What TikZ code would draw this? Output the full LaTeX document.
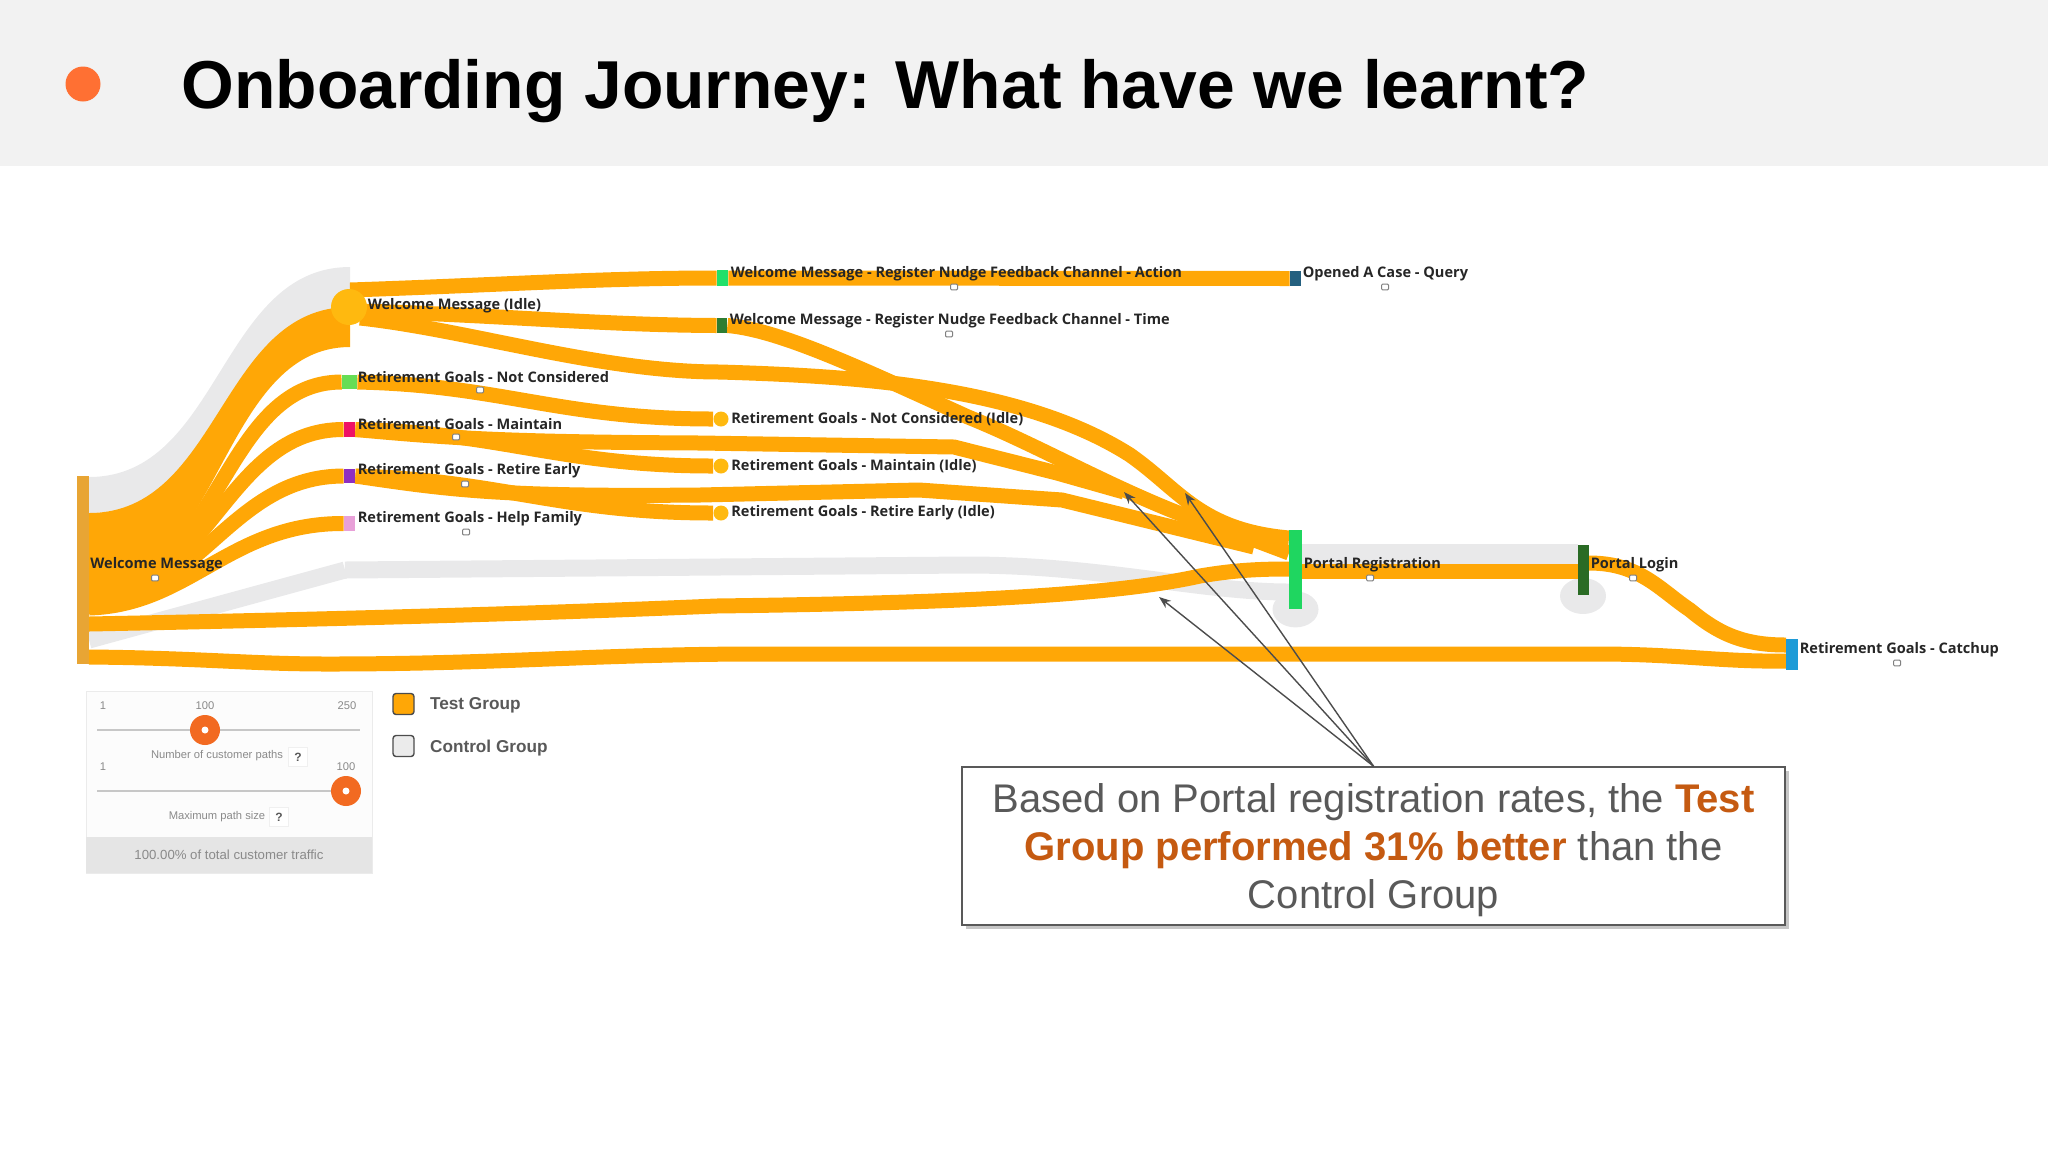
\documentclass[tikz,border=0pt]{standalone}
\usepackage{fontspec}
\setmainfont{Liberation Sans}
\newfontfamily\stagefont{Open Sans}
\usepackage{tikz}
\usetikzlibrary{positioning, backgrounds, arrows.meta, shadows}

\definecolor{bandorange}{HTML}{FFA706}
\definecolor{banddull}{HTML}{E8A534}
\definecolor{idlegold}{HTML}{FFB90F}
\definecolor{bandgrey}{HTML}{E9E9EA}
\definecolor{headgrey}{HTML}{F2F2F2}
\definecolor{dotorange}{HTML}{FF7033}
\definecolor{knoborange}{HTML}{F26A21}
\definecolor{calloutred}{HTML}{C55A11}
\definecolor{greytext}{HTML}{595959}
\definecolor{paletext}{HTML}{8A8A8A}
\definecolor{ncgreen}{HTML}{66DD55}
\definecolor{mtpink}{HTML}{EE1166}
\definecolor{repurple}{HTML}{8E2FC0}
\definecolor{hfpink}{HTML}{E8A0D8}
\definecolor{actgreen}{HTML}{22E06A}
\definecolor{tmgreen}{HTML}{2E7D32}
\definecolor{caseblue}{HTML}{24607F}
\definecolor{reggreen}{HTML}{1FD660}
\definecolor{logingreen}{HTML}{2A6B25}
\definecolor{catchblue}{HTML}{1E9BD7}

\begin{document}
\begin{tikzpicture}[x=0.5pt, y=-0.5pt,
  stage node/.style={rectangle,inner sep=0pt},
  idle node/.style={circle,inner sep=0pt,fill=idlegold},
  stage label/.style={inner sep=0pt,anchor=west,text=black!85,font=\stagefont\fontsize{7.28}{8}\selectfont\bfseries},
  tag/.style={rectangle,rounded corners=0.5pt,draw=black!50,fill=white,line width=0.5pt,inner sep=0pt,minimum width=3.5pt,minimum height=2.8pt},
  band/.style={draw=bandorange,line width=7.5pt},
  ghost/.style={draw=bandgrey,line width=8.5pt},
  knob/.style={circle,inner sep=0pt,minimum size=15pt,fill=knoborange},
  hole/.style={circle,inner sep=0pt,minimum size=3.5pt,fill=white},
  rail/.style={draw=black!22,line width=1pt},
  small text/.style={inner sep=0pt,text=paletext,font=\fontsize{5.6}{6}\selectfont},
  help/.style={rectangle,draw=black!6,fill=white,inner sep=0pt,minimum size=9.5pt,text=greytext,font=\fontsize{6}{7}\selectfont\bfseries},
  swatch/.style={rectangle,rounded corners=1.5pt,draw=black!70,line width=0.7pt,inner sep=0pt,minimum size=10.5pt},
  legend text/.style={inner sep=0pt,anchor=west,text=greytext,font=\fontsize{8.6}{10}\selectfont\bfseries},
  note arrow/.style={-{Stealth[length=6pt,width=4.5pt]},draw=black!70,line width=0.7pt}]
\useasboundingbox (0,0) rectangle (2048,1152);

\fill[headgrey] (0,0) rectangle (2048,166);
\node[circle,inner sep=0pt,minimum size=17.5pt,fill=dotorange] (dot) at (83,84) {};
\node[inner sep=0pt,anchor=west,font=\fontsize{33.9}{40}\selectfont\bfseries] (title) at (181,91) {Onboarding Journey: What have we learnt?};

\node[stage node,fill=banddull,minimum width=6pt,minimum height=94pt] (wm) at (83,570) {};
\node[idle node,minimum size=18pt] (idle) at (349,307) {};
\node[stage node,fill=ncgreen,minimum width=7.5pt,minimum height=7pt] (nc) at (349.5,382) {};
\node[stage node,fill=mtpink,minimum width=5.5pt,minimum height=7.5pt] (mt) at (349.5,429.5) {};
\node[stage node,fill=repurple,minimum width=5.5pt,minimum height=7pt] (re) at (349.5,476) {};
\node[stage node,fill=hfpink,minimum width=5.5pt,minimum height=7.5pt] (hf) at (349.5,523.5) {};
\node[stage node,fill=actgreen,minimum width=5.5pt,minimum height=8pt] (act) at (722.5,278) {};
\node[stage node,fill=tmgreen,minimum width=5pt,minimum height=7.5pt] (tm) at (722,325.5) {};
\node[stage node,fill=caseblue,minimum width=5.5pt,minimum height=7.5pt] (case) at (1295.5,278.5) {};
\node[idle node,minimum size=7.5pt] (ncidle) at (721,419) {};
\node[idle node,minimum size=7.5pt] (mtidle) at (721,466) {};
\node[idle node,minimum size=7.5pt] (reidle) at (721,513) {};
\node[stage node,fill=reggreen,minimum width=6.5pt,minimum height=39.5pt] (reg) at (1295.5,569.5) {};
\node[stage node,fill=logingreen,minimum width=5.5pt,minimum height=25pt] (login) at (1583.5,570) {};
\node[stage node,fill=catchblue,minimum width=6pt,minimum height=15.5pt] (catch) at (1792,654.5) {};

\coordinate (wmnc) at (89,592);
\coordinate (wmmt) at (89,597);
\coordinate (wmre) at (89,603);
\coordinate (wmhf) at (89,608);
\coordinate (wmdir) at (89,624);
\coordinate (wmlow) at (89,657);
\coordinate (wmgrey) at (89,640);
\coordinate (idlea) at (350,290);
\coordinate (idleb) at (358,311);
\coordinate (idlec) at (360,318);
\coordinate (idlebend) at (720,372);
\coordinate (idleturn) at (1130,455);
\coordinate (tmbend) at (968,417);
\coordinate (mtbend) at (954,447);
\coordinate (mtjoin) at (1124,492);
\coordinate (rebend) at (1062,500);
\coordinate (rejoin) at (1254,547);
\coordinate (dirbend) at (716,606);
\coordinate (lowdip) at (328,664);
\coordinate (lowflat) at (760,654);
\coordinate (greyknee) at (345,570);
\coordinate (greybend) at (968,565);
\coordinate (regidle) at (1289,538);
\coordinate (regtm) at (1289,553);
\coordinate (regdir) at (1289,569);
\coordinate (reglow) at (1289,592);
\coordinate (regout) at (1302,571);
\coordinate (loginin) at (1578,571);
\coordinate (loginout) at (1589,563);
\coordinate (loginmid) at (1690,610);
\coordinate (catchup) at (1786,645);
\coordinate (catchlow) at (1786,661);

\begin{scope}[on background layer]
\fill[bandgrey] (89,477) .. controls (220,477) and (220,267) .. (350,267) -- (350,320) .. controls (220,320) and (220,513) .. (89,513) -- cycle;
\path[ghost] (wmgrey) edge (greyknee);
\draw[ghost] (greyknee) -- (greybend) .. controls (1100,565) and (1200,592) .. (reglow);
\fill[bandgrey] (1302,544) rectangle (1578,565);
\fill[bandgrey] (reg.south) ellipse (23 and 18);
\fill[bandgrey] (1583,596) ellipse (23 and 18);

\fill[bandorange] (89,513) .. controls (220,513) and (220,307) .. (350,307) -- (350,347) .. controls (220,347) and (220,587) .. (89,590) -- cycle;
\draw[band] (wmnc) .. controls (220,590) and (220,382) .. (nc.west);
\draw[band] (wmmt) .. controls (210,595) and (225,429) .. (mt.west);
\draw[band] (wmre) .. controls (200,600) and (230,476) .. (re.west);
\draw[band] (wmhf) .. controls (190,605) and (230,523) .. (hf.west);
\draw[band] (wmdir) .. controls (400,618) and (600,611) .. (dirbend) .. controls (950,603) and (1110,596) .. (1200,576) .. controls (1235,570) and (1260,569) .. (regdir);
\draw[band] (wmlow) .. controls (200,658) and (250,664) .. (lowdip) .. controls (500,664) and (600,654) .. (lowflat) -- (1597,654) .. controls (1680,654) and (1720,662) .. (catchlow);
\draw[band] (idlea) .. controls (500,285) and (600,278) .. (act.west);
\draw[band] (idleb) .. controls (500,315) and (600,325) .. (tm.west);
\draw[band] (idlec) .. controls (470,330) and (600,372) .. (idlebend) .. controls (850,376) and (1020,385) .. (idleturn) .. controls (1180,490) and (1200,530) .. (regidle);
\draw[band] (tm.east) .. controls (780,330) and (860,368) .. (tmbend) .. controls (1050,450) and (1140,505) .. (1236,533) -- (regtm);
\path[band] (act.east) edge (case.west);
\draw[band] (nc.east) .. controls (500,385) and (560,419) .. (ncidle);
\draw[band] (mt.east) .. controls (500,432) and (560,466) .. (mtidle);
\draw[band] (re.east) .. controls (500,480) and (560,513) .. (reidle);
\draw[band] (mt.east) .. controls (450,438) and (500,442) .. (700,443) -- (mtbend) -- (1057,473) -- (mtjoin);
\draw[band] (re.east) .. controls (450,490) and (500,497) .. (700,495) -- (919,490) -- (rebend) -- (rejoin);
\path[band] (regout) edge (loginin);
\draw[band] (loginout) .. controls (1640,563) and (1660,590) .. (loginmid) .. controls (1720,635) and (1745,645) .. (catchup);
\end{scope}

\node[stage label] (wmtext) at (90,565) {Welcome Message};
\node[stage label,right=0pt of idle,yshift=0.5pt] (idletext) {Welcome Message (Idle)};
\node[stage label,right=0pt of nc,yshift=2.5pt] (nctext) {Retirement Goals - Not Considered};
\node[stage label,right=1pt of mt,yshift=2.5pt] (mttext) {Retirement Goals - Maintain};
\node[stage label,right=1pt of re,yshift=2.5pt] (retext) {Retirement Goals - Retire Early};
\node[stage label,right=1pt of hf,yshift=2.5pt] (hftext) {Retirement Goals - Help Family};
\node[stage label,right=1pt of act,yshift=2pt] (acttext) {Welcome Message - Register Nudge Feedback Channel - Action};
\node[stage label,right=1pt of tm,yshift=2.5pt] (tmtext) {Welcome Message - Register Nudge Feedback Channel - Time};
\node[stage label,right=0.5pt of case,yshift=2.5pt] (casetext) {Opened A Case - Query};
\node[stage label,right=1pt of ncidle] (ncidletext) {Retirement Goals - Not Considered (Idle)};
\node[stage label,right=1pt of mtidle] (mtidletext) {Retirement Goals - Maintain (Idle)};
\node[stage label,right=1pt of reidle] (reidletext) {Retirement Goals - Retire Early (Idle)};
\node[stage label,right=0.5pt of reg,yshift=2.5pt] (regtext) {Portal Registration};
\node[stage label,right=0.5pt of login,yshift=2.5pt] (logintext) {Portal Login};
\node[stage label,right=0.5pt of catch,yshift=2.5pt] (catchtext) {Retirement Goals - Catchup};

\node[tag] (tagwm) at (155,578) {};
\node[tag] (tagnc) at (480,390) {};
\node[tag] (tagmt) at (456,437) {};
\node[tag] (tagre) at (465,484) {};
\node[tag] (taghf) at (466,532) {};
\node[tag] (tagact) at (954,287) {};
\node[tag] (tagtm) at (949,334) {};
\node[tag] (tagcase) at (1385,287) {};
\node[tag] (tagreg) at (1370,578) {};
\node[tag] (taglogin) at (1633,578) {};
\node[tag] (tagcatch) at (1897,663) {};

\node[rectangle,draw=black!8,fill=black!1,inner sep=0pt,minimum width=143pt,minimum height=91pt] (panel) at (229,782) {};
\node[rectangle,fill=black!10,inner sep=0pt,minimum width=143pt,minimum height=18pt,text=paletext,font=\fontsize{6.6}{7}\selectfont] (traffic) at (229,855) {100.00\% of total customer traffic};
\node[small text] (minone) at (103,706) {1};
\node[small text] (pathsval) at (205,706) {100};
\node[small text] (maxone) at (347,706) {250};
\coordinate (railaL) at (97,730);
\coordinate (railaR) at (360,730);
\draw[rail] (railaL) -- (railaR);
\node[knob] (knoba) at (205,730) {};
\node[hole] (holea) at (knoba) {};
\node[small text] (pathstext) at (217,756) {Number of customer paths};
\node[help] (helpa) at (298,757) {?};
\node[small text] (mintwo) at (103,767) {1};
\node[small text] (maxtwo) at (346,767) {100};
\coordinate (railbL) at (97,791);
\coordinate (railbR) at (360,791);
\draw[rail] (railbL) -- (railbR);
\node[knob] (knobb) at (346,791) {};
\node[hole] (holeb) at (knobb) {};
\node[small text] (sizetext) at (217,817) {Maximum path size};
\node[help] (helpb) at (279,817) {?};

\node[swatch,fill=bandorange] (testbox) at (403.5,704) {};
\node[legend text,right=7.5pt of testbox,yshift=-0.8pt] (testtext) {Test Group};
\node[swatch,fill=black!8] (ctrlbox) at (403.5,746) {};
\node[legend text,right=7.5pt of ctrlbox,yshift=-0.8pt] (ctrltext) {Control Group};

\node[rectangle,draw=black!65,fill=white,line width=0.8pt,inner sep=0pt,minimum width=411.5pt,minimum height=79pt,
  drop shadow={shadow xshift=2pt,shadow yshift=-2pt,opacity=0.45},align=center,text=greytext,font=\fontsize{20}{24}\selectfont] (callout) at (1373.5,846)
  {\rule{0pt}{19pt}Based on Portal registration rates, the \textcolor{calloutred}{\textbf{Test}}\\
   \textcolor{calloutred}{\textbf{Group performed 31\% better}} than the\\
   Control Group};

\coordinate (tipa) at (1124,492);
\coordinate (tipb) at (1185,493);
\coordinate (tipc) at (1159,597);
\draw[note arrow] (callout.north) -- (tipa);
\draw[note arrow] (callout.north) -- (tipb);
\draw[note arrow] (callout.north) -- (tipc);

\end{tikzpicture}
\end{document}
